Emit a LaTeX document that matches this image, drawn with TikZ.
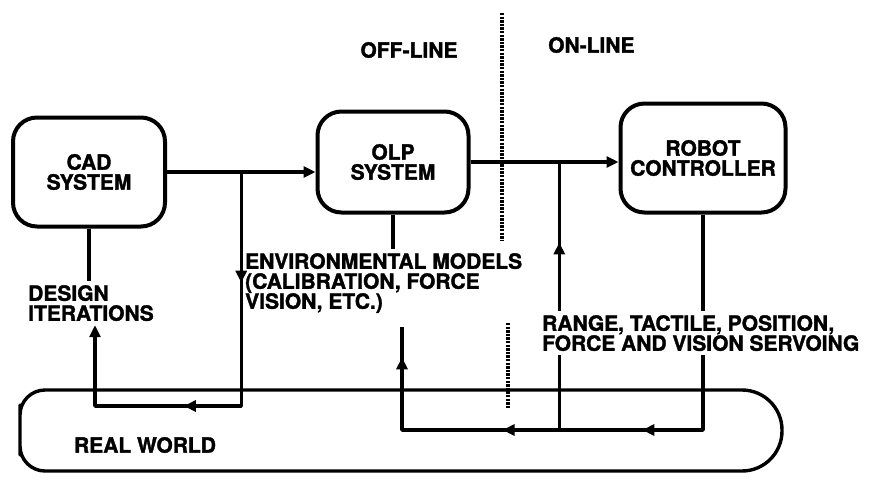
\documentclass[tikz,border=0pt]{standalone}
\usepackage{fontspec}
\setmainfont{TeX Gyre Heros}[BoldFeatures={FakeBold=1.6}]
\usetikzlibrary{arrows.meta,decorations.markings,calc}
\newcommand{\labelfont}{\fontsize{21}{20}\selectfont\bfseries}
\tikzset{
  box/.style={draw,line width=4pt,rounded corners=24pt,align=center,font=\labelfont},
  lbl/.style={align=left,inner sep=4pt,font=\labelfont},
  flow/.style={line width=3.4pt},
  tip/.style={-{Triangle[length=12pt,width=11pt]}},
  midarrow/.style={postaction={decorate,decoration={markings,
    mark=at position #1 with {\arrow{Triangle[length=12pt,width=11pt]}}}}},
  divider/.style={line width=3.6pt,dash pattern=on 2.4pt off 1.2pt},
}
\begin{document}
\begin{tikzpicture}[x=1pt,y=-1pt,line join=round]
  \useasboundingbox (0,0) rectangle (870,483);

  \node[box,minimum width=152pt,minimum height=109pt] (cad) at (89,172) {CAD\\SYSTEM};
  \node[box,minimum width=151pt,minimum height=101pt] (olp) at (393,162) {OLP\\SYSTEM};
  \node[box,minimum width=165pt,minimum height=109pt] (robot) at (703,158) {ROBOT\\CONTROLLER};

  \node[lbl] (offline) at (409,50) {OFF-LINE};
  \node[lbl,anchor=west] (online) at (544,45) {ON-LINE};
  \node[lbl,anchor=north west] (design) at (24,281) {DESIGN\\ITERATIONS};
  \node[lbl,anchor=north west] (envir) at (241,249) {ENVIRONMENTAL MODELS\\(CALIBRATION, FORCE\\VISION, ETC.)};
  \node[lbl,anchor=north west] (range) at (538,311) {RANGE, TACTILE, POSITION,\\FORCE AND VISION SERVOING};
  \node[lbl] (world) at (145,445) {REAL WORLD};

  % real world
  \draw[flow] (20,430) [rounded corners=25pt] -- (20,390) -- (400,390)
    [rounded corners=40pt] -- (782,390) -- (782,471) -- (400,471)
    [rounded corners=25pt] -- (20,471) -- cycle;

  % off-line / on-line divide
  \draw[divider] (502,13) -- (502,240);
  \draw[divider] (508,323) -- (508,408);

  % forward path
  \draw[flow,tip] (cad.east) -- (cad.east -| olp.west);
  \draw[flow,tip] (olp.east) -- (olp.east -| robot.west);
  \path (cad.east) -- (cad.east -| olp.west) coordinate[pos=0.5] (split);
  \path (olp.east) -- (olp.east -| robot.west) coordinate[pos=0.6] (sense);

  % design loop
  \coordinate (cadfb) at (split |- 0,406);
  \coordinate (designfb) at (95,406);
  \draw[flow] (cad.south) -- (cad.south |- design.north);
  \draw[flow,tip,midarrow=0.24,midarrow=0.632] (split) -- (cadfb) -- (designfb) -- (designfb |- design.south);

  % sensing loops
  \coordinate (robotfb) at (robot.south |- 0,430);
  \coordinate (sensefb) at (sense |- 0,430);
  \coordinate (envfb) at (402,430);
  \draw[flow] (olp.south) -- (olp.south |- envir.north);
  \draw[flow] (robot.south) -- (robot.south |- range.north);
  \draw[flow,midarrow=0.283,midarrow=0.575,midarrow=0.937] (robot.south |- range.south) -- (robotfb) -- (envfb) -- ($(envfb |- envir.south)+(0,10)$);
  \draw[flow] (sensefb) -- (sensefb |- range.south);
  \draw[flow,midarrow=0.46] (sensefb |- range.north) -- (sense);
\end{tikzpicture}
\end{document}
